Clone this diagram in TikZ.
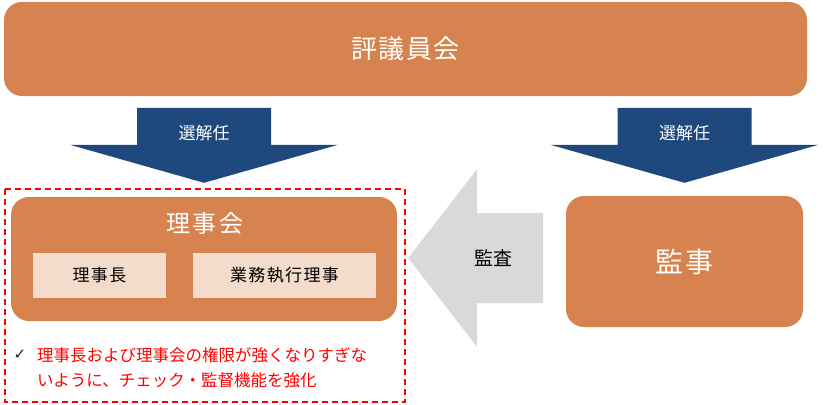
\documentclass[tikz,border=0pt]{standalone}
\usepackage{fontspec}
\setmainfont{Noto Sans CJK JP}
\newfontfamily\symfont{DejaVu Sans}
\definecolor{BoxOrange}{HTML}{D7834F}
\definecolor{ArrowBlue}{HTML}{1F497D}
\definecolor{SoftPeach}{HTML}{F3DCCB}
\definecolor{AuditGray}{HTML}{D9D9D9}
\definecolor{NoteRed}{HTML}{FF0000}
\usetikzlibrary{positioning,calc}

\begin{document}
\begin{tikzpicture}[
  x=1pt,y=-1pt,
  body/.style={fill=BoxOrange,rounded corners=18pt,text=white,inner sep=0pt},
  post/.style={fill=SoftPeach,minimum height=45pt,inner sep=0pt,font=\fontsize{17}{20}\selectfont\addfontfeature{LetterSpace=8}},
  selarr/.style={fill=ArrowBlue},
  sellabel/.style={text=white,font=\fontsize{17}{20}\selectfont},
  auditarr/.style={fill=AuditGray},
  noteframe/.style={draw=NoteRed,color=NoteRed,line width=1.3pt,dash pattern=on 6pt off 4pt}
]
\useasboundingbox (0,0) rectangle (824,404);
\node[body,minimum width=803pt,minimum height=94pt,font=\fontsize{26}{30}\selectfont\addfontfeature{LetterSpace=5}] (council) at (405.5,49) {評議員会};
\node[body,minimum width=386pt,minimum height=124pt] (board) at (204,259) {};
\node[text=white,inner sep=0pt,font=\fontsize{24}{28}\selectfont\addfontfeature{LetterSpace=10}] (boardtitle) at (205,223) {理事会};
\node[post,minimum width=133pt] (chair) at (99.5,275.5) {理事長};
\node[post,minimum width=183pt] (exec) at (284.5,275) {業務執行理事};
\node[body,minimum width=237pt,minimum height=131pt,font=\fontsize{28}{32}\selectfont\addfontfeature{LetterSpace=10}] (auditor) at (684.5,261.5) {監事};
% selection arrows
\fill[selarr] ($(board.north)+(0,-14)$) coordinate (t1) -- ++(-134,-38) -- ++(67,0) -- ++(0,-37) -- ++(134,0) -- ++(0,37) -- ++(67,0) -- cycle;
\node[sellabel] (sel1) at ($(t1)+(0,-50)$) {選解任};
\fill[selarr] ($(auditor.north)+(0,-13)$) coordinate (t2) -- ++(-134,-38) -- ++(67,0) -- ++(0,-37) -- ++(134,0) -- ++(0,37) -- ++(67,0) -- cycle;
\node[sellabel] (sel2) at ($(t2)+(0,-50)$) {選解任};
% audit arrow
\fill[auditarr] ($(board.east)+(11,-1)$) coordinate (a1) -- ++(69,-89) -- ++(0,44) -- ++(66,0) -- ++(0,90) -- ++(-66,0) -- ++(0,44) -- cycle;
\node[font=\fontsize{19}{22}\selectfont] (audit) at ($(a1)+(85,0)$) {監査};
% note
\draw[noteframe] (5,189) rectangle (405,402);
\node[text=ArrowBlue!50!black,inner sep=0pt,font=\symfont\fontsize{15}{15}\selectfont] (tick) at (20,355) {✓};
\node[anchor=west,inner sep=0pt,text=NoteRed,align=left,font=\fontsize{16.5}{25}\selectfont] (note) at (37,367.5) {理事長および理事会の権限が強くなりすぎな\\いように、チェック・監督機能を強化};
\end{tikzpicture}
\end{document}
